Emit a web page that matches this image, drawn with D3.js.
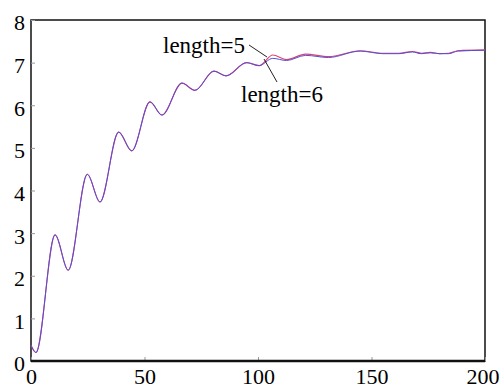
<!DOCTYPE html>
<html>
<head>
<meta charset="utf-8">
<script src="https://cdn.jsdelivr.net/npm/d3@7"></script>
<style>
  body { margin: 0; background: #fff; }
  svg { display: block; }
  text { font-family: "Liberation Serif", "Times New Roman", serif; }
</style>
</head>
<body>
<svg id="chart"></svg>
<script>
var width = 501,
    height = 388

// x positions of the turning points, shared part then the tail of each run
var xHead = [0, 2.2, 10.6, 16.4, 24.8, 30.4, 38.6, 44.4, 52.4, 57.7, 66.5, 72.2, 80.6, 85.9, 95, 100.5]
var yHead = [0.37, 0.2, 2.96, 2.13, 4.38, 3.73, 5.37, 4.93, 6.08, 5.77, 6.52, 6.35, 6.80, 6.69, 7.0, 6.93]

var xTail = [106.5, 112.5, 121, 131, 145, 155, 162, 168, 172, 176, 180, 184, 188, 200]
var yLen5 = [7.18, 7.07, 7.20, 7.14, 7.28, 7.22, 7.22, 7.26, 7.22, 7.24, 7.21, 7.22, 7.28, 7.30]
var yLen6 = [7.10, 7.05, 7.17, 7.12, 7.27, 7.21, 7.21, 7.25, 7.21, 7.23, 7.21, 7.21, 7.27, 7.29]

var xTicks = [0, 50, 100, 150, 200]
var yTicks = [0, 1, 2, 3, 4, 5, 6, 7, 8]

var plotLeft = 31, plotRight = 485, plotTop = 20, plotBottom = 361

var svg = d3.select("svg#chart")
    .attr("width", width)
    .attr("height", height)

var x = d3.scaleLinear().domain([0, 200]).range([plotLeft, plotRight])
var y = d3.scaleLinear().domain([0, 8]).range([plotBottom, plotTop])

function series(ys) {
    var xs = xHead.concat(xTail)
    var vs = yHead.concat(ys)
    return xs.map(function(d, i) { return [d, vs[i]] })
}

var line = d3.line()
    .x(function(d) { return x(d[0]) })
    .y(function(d) { return y(d[1]) })
    .curve(d3.curveMonotoneX)

// frame
svg.append("rect")
    .attr("x", plotLeft)
    .attr("y", plotTop)
    .attr("width", plotRight - plotLeft)
    .attr("height", plotBottom - plotTop)
    .attr("fill", "none")
    .attr("stroke", "#111")
    .attr("stroke-width", 1.5)

var yAxis = svg.append("g")
    .attr("transform", "translate(" + plotLeft + ",0)")
    .call(d3.axisLeft(y).tickValues(yTicks).tickSize(-4).tickPadding(6).tickFormat(d3.format("d")))
    .attr("font-family", null)
    .attr("font-size", null)
yAxis.select(".domain").remove()
yAxis.selectAll("line").attr("stroke", "#999")
yAxis.selectAll("text")
    .attr("x", -6)
    .attr("dy", "0.45em")
    .attr("fill", "#000")
    .style("font-size", "22px")

var xAxis = svg.append("g")
    .attr("transform", "translate(0," + plotBottom + ")")
    .call(d3.axisBottom(x).tickValues(xTicks).tickSize(-4).tickFormat(d3.format("d")))
    .attr("font-family", null)
    .attr("font-size", null)
xAxis.select(".domain").remove()
xAxis.selectAll("line").attr("stroke", "#999")
xAxis.selectAll("text")
    .attr("y", 23)
    .attr("dy", 0)
    .attr("fill", "#000")
    .style("font-size", "22px")
xAxis.selectAll(".tick").filter(function(d) { return d == 200 })
    .select("text")
    .attr("text-anchor", "end")
    .attr("x", 14)

// bottom axis line is a bit heavier
svg.append("line")
    .attr("x1", plotLeft).attr("x2", plotRight)
    .attr("y1", plotBottom).attr("y2", plotBottom)
    .attr("stroke", "#111")
    .attr("stroke-width", 2.5)

svg.append("path")
    .datum(series(yLen5))
    .attr("d", line)
    .attr("fill", "none")
    .attr("stroke", "#e0406e")
    .attr("stroke-width", 1.1)

svg.append("path")
    .datum(series(yLen6))
    .attr("d", line)
    .attr("fill", "none")
    .attr("stroke", "#5050d8")
    .attr("stroke-width", 1)

// labels with leader lines
svg.append("text")
    .attr("x", 163).attr("y", 53)
    .style("font-size", "23px")
    .text("length=5")
svg.append("line")
    .attr("x1", 249).attr("y1", 45)
    .attr("x2", 267).attr("y2", 57)
    .attr("stroke", "#222")
svg.append("text")
    .attr("x", 241).attr("y", 102)
    .style("font-size", "23px")
    .text("length=6")
svg.append("line")
    .attr("x1", 264).attr("y1", 59)
    .attr("x2", 277).attr("y2", 82)
    .attr("stroke", "#222")
</script>
</body>
</html>
